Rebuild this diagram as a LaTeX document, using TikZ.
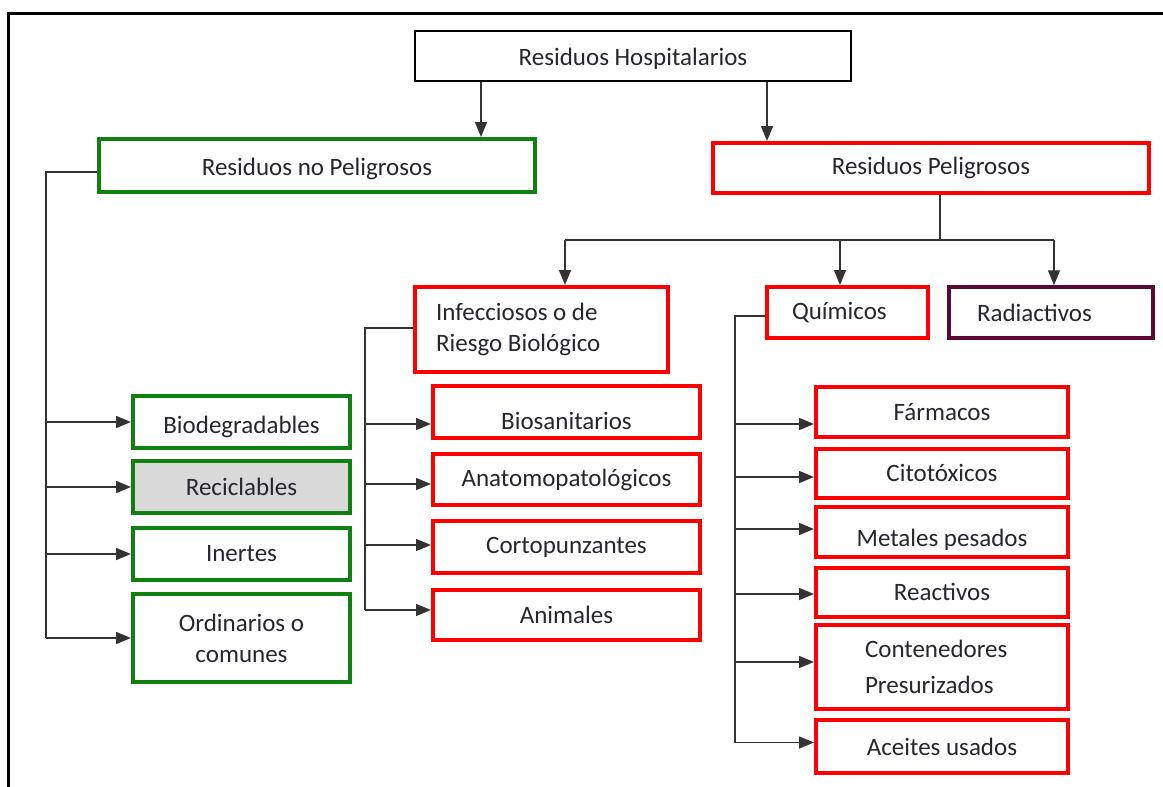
\documentclass[tikz,border=0pt]{standalone}
\usepackage{fontspec}
\setmainfont{Carlito}
\usetikzlibrary{arrows.meta,positioning}
\definecolor{verdeR}{RGB}{16,128,16}
\definecolor{rojoR}{RGB}{255,0,0}
\definecolor{moradoR}{RGB}{90,10,50}
\definecolor{textoR}{RGB}{38,38,48}
\definecolor{grisR}{RGB}{217,217,217}
\newcommand{\bajo}[2]{\raisebox{-#1pt}[\height][\depth]{#2}}
\tikzset{
  caja/.style={draw, rectangle, inner sep=0pt, text=textoR, align=center,
    font=\fontsize{25}{31}\selectfont},
  negra/.style={caja, draw=black, line width=1.5pt},
  verde/.style={caja, draw=verdeR, line width=4pt},
  rojo/.style={caja, draw=rojoR, line width=4pt},
  morada/.style={caja, draw=moradoR, line width=3.5pt},
  linea/.style={draw=black!80, line width=1.5pt},
  flecha/.style={linea, -{Triangle[length=15pt,width=12pt]}},
}
\begin{document}
\begin{tikzpicture}[x=1pt,y=-1pt]
\fill[white] (0,0) rectangle (1163,787);
\useasboundingbox (0,0) rectangle (1163,787);

% marco
\draw[line width=3pt] (8,787) -- (8,13) -- (1163,13);

% primer nivel
\node[negra, minimum width=436pt, minimum height=50pt] (hosp) at (633,56) {\bajo{3}{Residuos Hospitalarios}};
\node[verde, minimum width=436pt, minimum height=53pt] (noPel) at (317,165.5) {\bajo{3}{Residuos no Peligrosos}};
\node[rojo, minimum width=436pt, minimum height=50pt] (pel) at (931,168) {Residuos Peligrosos};

\draw[flecha] ([xshift=-152pt]hosp.south) -- ([xshift=-152pt]hosp.south |- noPel.north);
\draw[flecha] ([xshift=134pt]hosp.south) -- ([xshift=134pt]hosp.south |- pel.north);

% residuos no peligrosos
\node[verde, minimum width=217pt, minimum height=52pt] (bio) at (241.5,422) {\bajo{5}{Biodegradables}};
\node[verde, fill=grisR, minimum width=217pt, minimum height=52pt] (reci) at (241.5,487) {Reciclables};
\node[verde, minimum width=217pt, minimum height=52pt] (inert) at (241.5,554) {Inertes};
\node[verde, minimum width=217pt, minimum height=88pt] (ordin) at (241.5,638) {Ordinarios o\\comunes};

\coordinate (eA) at (46,172);
\draw[linea] (noPel.west |- eA) -- (eA) -- (eA |- ordin.west);
\foreach \n in {bio,reci,inert,ordin}
  \draw[flecha] (eA |- \n.west) -- (\n.west);

% residuos peligrosos
\node[rojo, minimum width=253pt, minimum height=85pt, text width=211pt, align=flush left] (infec) at (541.5,329.5) {Infecciosos o de\\Riesgo Biológico};
\node[rojo, minimum width=161pt, minimum height=51pt, text width=111pt, align=flush left] (quim) at (847.5,312.5) {Químicos};
\node[morada, minimum width=204pt, minimum height=51pt, text width=148pt, align=flush left] (radio) at (1051,312.5) {Radiactivos};

\draw[linea] ([xshift=9pt]pel.south) -- ++(0,45) coordinate (bus);
\draw[linea] ([xshift=23.5pt]infec.north |- bus) -- ([xshift=3pt]radio.north |- bus);
\draw[flecha] ([xshift=23.5pt]infec.north |- bus) -- ([xshift=23.5pt]infec.north);
\draw[flecha] ([xshift=-7.5pt]quim.north |- bus) -- ([xshift=-7.5pt]quim.north);
\draw[flecha] ([xshift=3pt]radio.north |- bus) -- ([xshift=3pt]radio.north);

% infecciosos
\node[rojo, minimum width=267pt, minimum height=52pt] (biosan) at (566.5,412) {\bajo{9}{Biosanitarios}};
\node[rojo, minimum width=267pt, minimum height=51pt] (anato) at (566.5,479.5) {Anatomopatológicos};
\node[rojo, minimum width=267pt, minimum height=52pt] (corto) at (566.5,547) {Cortopunzantes};
\node[rojo, minimum width=267pt, minimum height=50pt] (anim) at (566.5,615) {Animales};

\coordinate (eB) at (365,328);
\draw[linea] (infec.west |- eB) -- (eB) -- ([yshift=5pt]anim.west -| eB);
\foreach \n/\d in {biosan/-12,anato/-4.5,corto/2,anim/5}
  \draw[flecha] ([yshift=\d pt]\n.west -| eB) -- ([yshift=\d pt]\n.west);

% quimicos
\node[rojo, minimum width=252pt, minimum height=50pt] (farm) at (942,412) {Fármacos};
\node[rojo, minimum width=252pt, minimum height=49pt] (cito) at (942,473) {Citotóxicos};
\node[rojo, minimum width=252pt, minimum height=50pt] (metal) at (942,532) {\bajo{8}{Metales pesados}};
\node[rojo, minimum width=252pt, minimum height=49pt] (reac) at (942,592) {Reactivos};
\node[rojo, minimum width=252pt, minimum height=84pt, text width=154pt, align=flush left, font=\fontsize{25}{36}\selectfont] (conten) at (942,667) {Contenedores\\Presurizados};
\node[rojo, minimum width=252pt, minimum height=53pt] (aceit) at (942,746.5) {Aceites usados};

\coordinate (eC) at (735,316);
\draw[linea] (quim.west |- eC) -- (eC) -- ([yshift=4pt]aceit.west -| eC);
\foreach \n/\d in {farm/-12,cito/-4,metal/3,reac/-2,conten/5,aceit/4}
  \draw[flecha] ([yshift=\d pt]\n.west -| eC) -- ([yshift=\d pt]\n.west);

\end{tikzpicture}
\end{document}
